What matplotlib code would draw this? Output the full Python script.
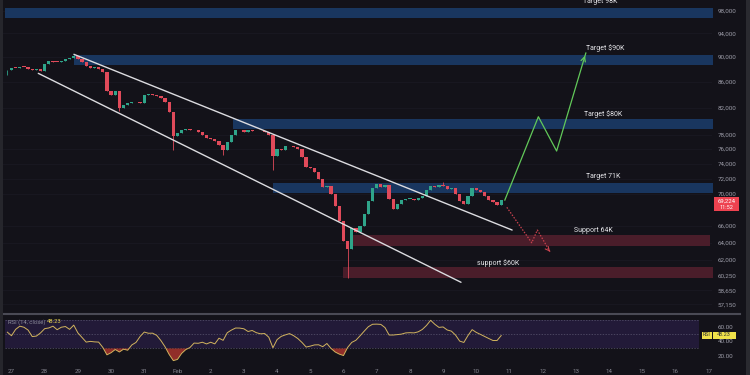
import matplotlib
matplotlib.use('Agg')
import matplotlib.pyplot as plt
import numpy as np
from matplotlib.patches import Rectangle
from matplotlib.lines import Line2D
from matplotlib.ticker import FixedLocator, NullLocator

plt.rcParams['font.family'] = ['Roboto', 'DejaVu Sans']

# ---------------- data ----------------
candle_start_day = -0.125     # days after Jan 27 00:00
candle_step = 0.125           # 3-hour candles
first_open = 87800
close = [87950, 88230, 88160, 88440, 88390, 88110, 87900, 88030, 87710, 88850,
         89350, 89230, 89150, 89350, 89680, 89840, 90170, 89590, 89180, 88520,
         88200, 88350, 88030, 87550, 84500, 83950, 84600, 81950, 82480, 82700,
         82810, 82880, 82700, 84010, 84150, 83930, 83820, 83470, 82900, 81350,
         77800, 78300, 78710, 78830, 78640, 78700, 78490, 78060, 77630, 77420,
         77070, 76640, 75870, 77000, 78060, 78710, 78640, 78420, 78710, 78570,
         78510, 78600, 78390, 77990, 75040, 76040, 75900, 76370, 76400, 76300,
         76010, 74850, 73580, 73400, 72840, 71930, 70850, 71020, 69980, 68520,
         66630, 64190, 63260, 65780, 65320, 65940, 67480, 69080, 70800, 71280,
         70890, 71150, 69400, 68040, 68730, 69190, 69340, 69370, 69240, 69430,
         69770, 70460, 71020, 70880, 71150, 70970, 70570, 70710, 69950, 69060,
         68710, 69760, 70700, 70450, 70240, 69700, 69200, 69010, 68640, 69224]
extra_low = {0: 87070, 27: 81500, 40: 75870, 52: 75180, 64: 73130, 82: 59980}
extra_high = {16: 90330, 105: 71600}

rsi = [53, 48, 57, 61.5, 60, 56, 46.8, 47.5, 52, 58,
       59, 61.5, 56.5, 60, 61, 57, 63, 52, 45.5, 39,
       40, 39.3, 39, 31.5, 21, 24, 28.5, 25, 29, 27.5,
       35, 38.5, 47, 53.2, 51.5, 51.6, 48.5, 41.2, 32.4, 21.5,
       12.8, 14.5, 23, 28.4, 31.3, 37.6, 37.3, 38.8, 36.4, 38.8,
       36.5, 44.5, 41.5, 52.3, 56, 58.9, 58.8, 57.8, 54, 55.4,
       52.3, 50.7, 51.1, 45.9, 31, 42.5, 47.1, 49.2, 51, 48,
       44, 38.5, 32, 33.3, 35, 35.2, 32.5, 37, 30, 25,
       22, 20, 31.5, 38.6, 41.6, 47.9, 54.5, 60.8, 64.2, 64.4,
       64, 59.5, 49, 49, 49.6, 50.3, 52, 52.3, 52, 53.5,
       56.9, 62.5, 69.8, 64.2, 59.8, 60.4, 56.1, 54.5, 48.9, 40.4,
       38.5, 48.3, 56.6, 52.7, 49.9, 47, 44.1, 41.3, 41.2, 48.23]

date_labels = ['27', '28', '29', '30', '31', 'Feb', '2', '3', '4', '5', '6', '7',
               '8', '9', '10', '11', '12', '13', '14', '15', '16', '17']
price_ticks = [98000, 94000, 90000, 86000, 82000, 78000, 76000, 74000, 72000,
               70000, 66000, 64000, 62000, 60250, 58650, 57150]
rsi_ticks = [60, 40, 20]

zone_names = ['Target 98K', 'Target $90K', 'Target $80K', 'Target 71K',
              'Support 64K', 'support $60K']
zone_low = [96620, 88680, 78850, 70170, 63610, 60030]
zone_high = [98420, 90330, 80310, 71470, 64910, 61200]
zone_start = [-0.2, 1.88, 6.67, 7.88, 10.2, 9.98]
zone_end = [21.2, 21.2, 21.2, 21.2, 21.04, 21.2]
zone_kind = ['target', 'target', 'target', 'target', 'support', 'support']
label_day = [17.21, 17.30, 17.24, 17.30, 16.94, 14.02]
label_price = [99740, 91550, 81100, 72330, 65500, 61620]

upper_day = [1.88, 15.08]
upper_price = [90445, 65500]
lower_day = [0.807, 13.54]
lower_price = [87340, 59510]

bull_day = [14.86, 15.87, 16.42, 17.30]
bull_price = [69210, 80650, 75730, 90660]
bear_day = [14.92, 15.67, 15.84, 16.22]
bear_price = [68290, 63990, 65500, 62950]

last_price = 69224
last_rsi = 48.23

# ---------------- style ----------------
BG = '#131219'
UP = '#2fa58a'
DOWN = '#e04a5a'
BLUE_ZONE = '#19365f'
RED_ZONE = '#4a1d2a'
TXT = '#e4e4e8'
AX_TXT = '#9c9ca8'

fig = plt.figure(figsize=(7.5, 3.75), dpi=100, facecolor=BG)
W, H = 750.0, 375.0
ax = fig.add_axes([0, 1 - 313 / H, 712 / W, 313 / H], facecolor=BG)
ax2 = fig.add_axes([0, 1 - 366 / H, 712 / W, 51 / H], facecolor=BG)

xmin, xmax = -0.346, 21.1
ax.set_yscale('log')
ax.set_ylim(56246, 99930)
ax.set_xlim(xmin, xmax)

# faint grid
for p in price_ticks:
    ax.axhline(p, color='#1b1a24', lw=0.5, zorder=0)

# zones
for lo, hi, s, e, k in zip(zone_low, zone_high, zone_start, zone_end, zone_kind):
    ax.fill_between([s, e], lo, hi, color=BLUE_ZONE if k == 'target' else RED_ZONE,
                    lw=0, zorder=1)

# candles
days = candle_start_day + candle_step * np.arange(len(close))
opens = [first_open] + close[:-1]
for i, (d, o, c) in enumerate(zip(days, opens, close)):
    col = UP if c >= o else DOWN
    hi = max(o, c, extra_high.get(i, 0))
    lo = min(o, c, extra_low.get(i, 1e9))
    ax.vlines(d, lo, hi, color=col, lw=0.6, zorder=3)
    bot = min(o, c)
    h = max(abs(c - o), bot * 0.0015)
    ax.bar(d, h, bottom=bot, width=0.1, color=col, lw=0, zorder=3)

# channel lines
ax.plot(upper_day, upper_price, color='#dcdce0', lw=1.0, zorder=4, solid_capstyle='round')
ax.plot(lower_day, lower_price, color='#dcdce0', lw=1.0, zorder=4, solid_capstyle='round')

# scenario arrows
ax.plot(bull_day, bull_price, color='#62c95a', lw=0.9, zorder=5)
ax.annotate('', xy=(bull_day[-1], bull_price[-1]),
            xytext=(bull_day[-1] - 0.08, bull_price[-1] * 0.985),
            arrowprops=dict(arrowstyle='->', color='#62c95a', lw=0.9, mutation_scale=8),
            zorder=5)
ax.plot(bear_day, bear_price, color='#c8424e', lw=0.9, ls=(0, (1.2, 1.2)), zorder=5)
ax.annotate('', xy=(bear_day[-1], bear_price[-1]),
            xytext=(bear_day[-1] - 0.08, bear_price[-1] * 1.006),
            arrowprops=dict(arrowstyle='->', color='#c8424e', lw=0.8, mutation_scale=7),
            zorder=5)

# zone labels
for name, xd, yp in zip(zone_names, label_day, label_price):
    ax.text(xd, yp, name, color=TXT, fontsize=5, ha='left', va='center', zorder=6,
            clip_on=False)

# price axis
ax.yaxis.tick_right()
ax.yaxis.set_major_locator(FixedLocator(price_ticks))
ax.yaxis.set_minor_locator(NullLocator())
ax.set_yticklabels([f'{p:,}' for p in price_ticks])
ax.tick_params(axis='y', colors=AX_TXT, labelsize=4.5, length=0, pad=4)
ax.set_xticks([])
for sp in ax.spines.values():
    sp.set_visible(False)

# ---------------- RSI ----------------
ax2.set_xlim(xmin, xmax)
ax2.set_ylim(5.2, 77.3)
ax2.fill_between([-0.2, 20.7], 30, 70, color='#221a38', lw=0, zorder=0)
for lvl in (70, 50, 30):
    ax2.hlines(lvl, -0.2, 20.7, color='#5a5670', lw=0.5, ls=(0, (2, 2)), zorder=1)
rsi_arr = np.array(rsi)
ax2.fill_between(days, rsi_arr, 30, where=rsi_arr < 30, interpolate=True,
                 color='#a8342c', alpha=0.85, lw=0, zorder=2)
ax2.plot(days, rsi_arr, color='#d2b45e', lw=0.7, zorder=3)
ax2.yaxis.tick_right()
ax2.set_yticks(rsi_ticks)
ax2.set_yticklabels([f'{v:.2f}' for v in rsi_ticks])
ax2.tick_params(axis='y', colors=AX_TXT, labelsize=4.5, length=0, pad=4)
ax2.set_xticks(np.arange(len(date_labels)))
ax2.set_xticklabels(date_labels)
ax2.tick_params(axis='x', colors='#85858f', labelsize=4.5, length=0, pad=2.5)
for sp in ax2.spines.values():
    sp.set_visible(False)

fig.text(8 / W, 1 - 321.7 / H, 'RSI (14, close)', color='#8a8a98', fontsize=4.2,
         ha='left', va='center')
fig.text(47 / W, 1 - 321.7 / H, f'{last_rsi:.2f}', color='#e8d44d', fontsize=4.2,
         ha='left', va='center')

# ---------------- decorations ----------------
fig.add_artist(Line2D([0.005, 0.987], [1 - 314 / H] * 2, color='#4a4a55', lw=1.5))
fig.add_artist(Rectangle((0, 0), 3 / W, 1, transform=fig.transFigure,
                         color='#26262c', lw=0))
fig.add_artist(Rectangle((746 / W, 0), 4 / W, 1, transform=fig.transFigure,
                         color='#2a2a30', lw=0))

# last price tag
fig.add_artist(Rectangle((714 / W, 1 - 211 / H), 25 / W, 14 / H,
                         transform=fig.transFigure, color='#ee4250', lw=0))
fig.text(726.5 / W, 1 - 201 / H, f'{last_price:,}', color='white', fontsize=4.3,
         ha='center', va='center')
fig.text(726.5 / W, 1 - 207.5 / H, '11:52', color='white', fontsize=4.0,
         ha='center', va='center')

# RSI tag
fig.add_artist(Rectangle((701.5 / W, 1 - 338.5 / H), 10 / W, 7 / H,
                         transform=fig.transFigure, color='#efe14a', lw=0))
fig.add_artist(Rectangle((712.5 / W, 1 - 338.5 / H), 23 / W, 7 / H,
                         transform=fig.transFigure, color='#efe14a', lw=0))
fig.text(706.5 / W, 1 - 335 / H, 'RSI', color='#333', fontsize=3.8,
         ha='center', va='center')
fig.text(724 / W, 1 - 335 / H, f'{last_rsi:.2f}', color='#333', fontsize=4.0,
         ha='center', va='center')

fig.savefig('out.png', dpi=100, facecolor=BG)
